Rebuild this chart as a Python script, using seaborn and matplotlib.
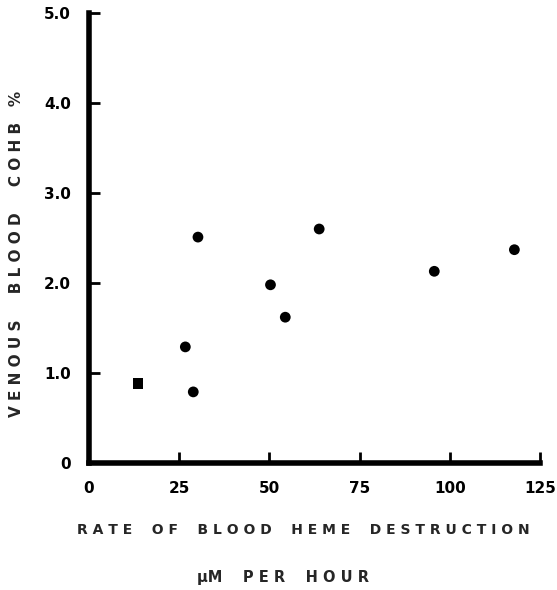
import numpy as np
import pandas as pd
import matplotlib.pyplot as plt
import seaborn as sns

# readings
heme_rate = [30.2, 63.8, 95.7, 117.9, 50.3, 54.4, 26.7, 28.9, 13.6]
cohb = [2.51, 2.60, 2.13, 2.37, 1.98, 1.62, 1.29, 0.79, 0.88]
group = ["circle"] * 8 + ["square"]

x_ticks = [0, 25, 50, 75, 100, 125]
y_ticks = [0, 1, 2, 3, 4, 5]
y_tick_labels = ["0", "1.0", "2.0", "3.0", "4.0", "5.0"]

df = pd.DataFrame({"rate": heme_rate, "cohb": cohb, "group": group})

sns.set_style("ticks")
plt.rcParams["font.family"] = ["DejaVu Sans"]

fig = plt.figure(figsize=(5.57, 5.90), dpi=100)
ax = fig.add_axes([89 / 557, 127 / 590, 451 / 557, 450 / 590])

sns.scatterplot(data=df, x="rate", y="cohb", style="group",
                markers={"circle": "o", "square": "s"},
                color="black", s=60, edgecolor="black", linewidth=0,
                legend=False, ax=ax)

ax.set_xlim(0, 125)
ax.set_ylim(0, 5)
ax.set_xticks(x_ticks)
ax.set_xticklabels([str(t) for t in x_ticks])
ax.set_yticks(y_ticks)
ax.set_yticklabels(y_tick_labels)

for side in ["top", "right"]:
    ax.spines[side].set_visible(False)
for side in ["left", "bottom"]:
    ax.spines[side].set_linewidth(4)
    ax.spines[side].set_color("black")

ax.tick_params(axis="both", direction="in", length=8, width=2, colors="black",
               labelsize=11, pad=13)
for lbl in ax.get_xticklabels() + ax.get_yticklabels():
    lbl.set_fontweight("bold")

ax.set_xlabel("")
ax.set_ylabel("V E N O U S     B L O O D     C O H B   %",
              fontsize=11, fontweight="bold")
ax.yaxis.set_label_coords(-0.145, 0.465)

fig.text(0.545, 0.102, "R A T E    O F    B L O O D    H E M E    D E S T R U C T I O N",
         ha="center", va="center", fontsize=10, fontweight="bold")
fig.text(0.508, 0.022, "\u03bcM    P E R    H O U R",
         ha="center", va="center", fontsize=10.5, fontweight="bold")

fig.savefig("out.png", dpi=100)
